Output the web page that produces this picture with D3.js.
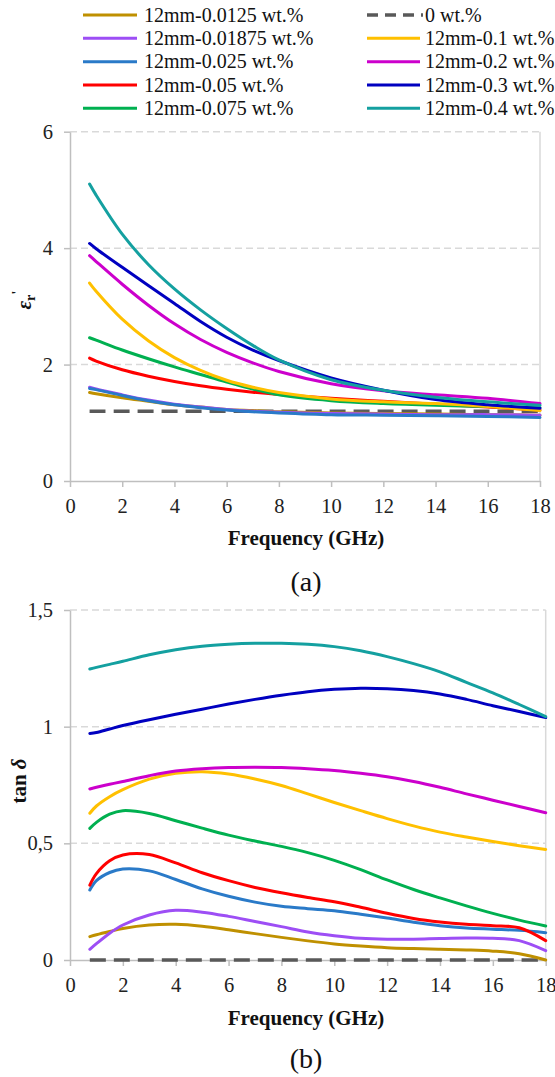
<!DOCTYPE html>
<html><head><meta charset="utf-8">
<script src="https://cdn.jsdelivr.net/npm/d3@7"></script>
<style>
html,body{margin:0;padding:0;background:#fff;}
svg{display:block;}
</style></head>
<body>
<svg id="c" width="555" height="1077"></svg>
<script>
// ---------- DATA ----------
const seriesNames = ["12mm-0.0125 wt.%","12mm-0.01875 wt.%","12mm-0.025 wt.%","12mm-0.05 wt.%","12mm-0.075 wt.%",
                     "0 wt.%","12mm-0.1 wt.%","12mm-0.2 wt.%","12mm-0.3 wt.%","12mm-0.4 wt.%"];
const seriesColors = ["#bf9000","#9d4ef5","#2a7ac8","#ff0000","#00b050","#595959","#ffc000","#cc00cc","#0000c0","#14a0a0"];

const freqA = [0.75,1,2,3,4,5,6,7,8,10,12,14,16,18];
const epsGold    = [1.52,1.50,1.43,1.37,1.31,1.27,1.23,1.21,1.19,1.17,1.16,1.15,1.14,1.13];
const epsPurple  = [1.61,1.58,1.48,1.39,1.32,1.27,1.23,1.20,1.18,1.16,1.15,1.14,1.14,1.13];
const epsBlue    = [1.59,1.57,1.47,1.38,1.31,1.26,1.22,1.19,1.17,1.14,1.13,1.12,1.11,1.09];
const epsRed     = [2.11,2.06,1.91,1.80,1.71,1.635,1.575,1.525,1.485,1.42,1.37,1.32,1.27,1.22];
const epsGreen   = [2.46,2.42,2.25,2.10,1.96,1.83,1.70,1.58,1.48,1.38,1.33,1.30,1.28,1.26];
const epsZero    = [1.20,1.20,1.20,1.20,1.20,1.20,1.20,1.20,1.20,1.20,1.20,1.20,1.20,1.20];
const epsYellow  = [3.40,3.26,2.78,2.41,2.12,1.90,1.73,1.61,1.52,1.41,1.36,1.33,1.28,1.21];
const epsMagenta = [3.87,3.77,3.38,3.02,2.70,2.43,2.21,2.03,1.88,1.67,1.55,1.48,1.42,1.33];
const epsNavy    = [4.08,3.99,3.67,3.36,3.05,2.74,2.47,2.25,2.07,1.77,1.56,1.40,1.31,1.25];
const epsTeal    = [5.10,4.91,4.24,3.72,3.30,2.94,2.62,2.33,2.08,1.74,1.56,1.44,1.36,1.30];

const freqB = [0.75,1,1.5,2,3,4,5,6,7,8,9,10,11,12,13,14,15,16,17,18];
const tanGold    = [0.100,0.108,0.122,0.135,0.150,0.153,0.145,0.130,0.113,0.097,0.082,0.069,0.060,0.053,0.049,0.046,0.043,0.038,0.027,0.000];
const tanPurple  = [0.046,0.070,0.115,0.150,0.193,0.213,0.205,0.187,0.165,0.143,0.120,0.104,0.093,0.089,0.089,0.092,0.094,0.093,0.083,0.040];
const tanBlue    = [0.300,0.340,0.375,0.390,0.382,0.345,0.305,0.273,0.248,0.230,0.220,0.211,0.196,0.180,0.162,0.147,0.137,0.132,0.127,0.117];
const tanRed     = [0.321,0.370,0.425,0.450,0.452,0.416,0.374,0.340,0.311,0.288,0.268,0.250,0.226,0.200,0.178,0.163,0.153,0.147,0.138,0.083];
const tanGreen   = [0.564,0.590,0.625,0.640,0.628,0.597,0.565,0.535,0.510,0.487,0.460,0.427,0.387,0.343,0.302,0.266,0.232,0.200,0.171,0.146];
const tanZero    = [0,0,0,0,0,0,0,0,0,0,0,0,0,0,0,0,0,0,0,0];
const tanYellow  = [0.629,0.660,0.700,0.730,0.775,0.800,0.807,0.797,0.776,0.748,0.712,0.675,0.640,0.606,0.575,0.548,0.527,0.508,0.490,0.474];
const tanMagenta = [0.733,0.740,0.753,0.765,0.790,0.810,0.820,0.825,0.826,0.825,0.820,0.812,0.800,0.785,0.765,0.740,0.712,0.685,0.658,0.631];
const tanNavy    = [0.971,0.975,0.990,1.005,1.030,1.053,1.075,1.097,1.117,1.135,1.150,1.160,1.165,1.163,1.155,1.140,1.117,1.090,1.065,1.039];
const tanTeal    = [1.247,1.254,1.267,1.280,1.308,1.330,1.345,1.353,1.357,1.357,1.353,1.343,1.325,1.300,1.270,1.235,1.190,1.145,1.095,1.043];

const xTicks = [0,2,4,6,8,10,12,14,16,18];
const yTicksA = [0,2,4,6];
const yTicksB = [0,0.5,1,1.5];
const yTickLabelsB = ["0","0,5","1","1,5"];

const epsSeries = [epsGold,epsPurple,epsBlue,epsRed,epsGreen,epsZero,epsYellow,epsMagenta,epsNavy,epsTeal];
const tanSeries = [tanGold,tanPurple,tanBlue,tanRed,tanGreen,tanZero,tanYellow,tanMagenta,tanNavy,tanTeal];
const drawOrder = [5,0,1,2,3,4,6,7,8,9];

// ---------- DRAW ----------
const FONT = '"Liberation Serif"';
const svg = d3.select("#c");
const AXIS = "#bfbfbf", GRID = "#d9d9d9";
function txt(sel, size, bold){
  return sel.style("font-family",FONT).style("font-size",size+"px").style("font-weight",bold?"bold":"normal");
}

function panel(cfg){
  const x = d3.scaleLinear().domain([0,18]).range([70,cfg.right]);
  const y = d3.scaleLinear().domain(cfg.ydom).range([cfg.bottom,cfg.top]);
  const g = svg.append("g");
  g.selectAll("line.grid").data(cfg.yticks.filter(d=>d>0)).join("line")
    .attr("x1",70).attr("x2",cfg.right).attr("y1",d=>y(d)).attr("y2",d=>y(d))
    .attr("stroke",GRID).attr("stroke-width",1.5).attr("stroke-dasharray","7,4");
  g.append("line").attr("x1",cfg.right).attr("x2",cfg.right).attr("y1",y(cfg.ydom[1])).attr("y2",cfg.bottom)
    .attr("stroke",GRID).attr("stroke-width",1.5);
  const xa = g.append("g").attr("transform",`translate(0,${cfg.bottom})`)
    .call(d3.axisBottom(x).tickValues(xTicks).tickSize(6).tickSizeOuter(0).tickPadding(11));
  const ya = g.append("g").attr("transform","translate(70,0)")
    .call(d3.axisLeft(y).tickValues(cfg.yticks).tickSize(6).tickSizeOuter(0).tickPadding(11)
      .tickFormat((d,i)=>cfg.ylabels ? cfg.ylabels[i] : String(d)));
  [xa,ya].forEach(a=>{
    a.select(".domain").attr("stroke",AXIS).attr("stroke-width",1.5);
    a.selectAll(".tick line").attr("stroke",AXIS).attr("stroke-width",1.5);
    txt(a.selectAll(".tick text"),20.5,false).attr("fill","#222");
  });
  const line = d3.line().x((d,i)=>x(cfg.freq[i])).y(d=>y(d)).curve(d3.curveCatmullRom.alpha(0.5));
  drawOrder.forEach(si=>{
    const isZero = si===5;
    g.append("path").attr("d",line(cfg.series[si])).attr("fill","none")
      .attr("stroke",seriesColors[si]).attr("stroke-width",isZero?3.5:3)
      .attr("stroke-dasharray",isZero?"16,8":null).attr("stroke-linecap",isZero?"butt":"round");
  });
  txt(g.append("text"),21,true).attr("x",306).attr("y",cfg.xtitleY).attr("text-anchor","middle")
    .attr("fill","#111").text("Frequency (GHz)");
  txt(g.append("text"),28,false).attr("x",306).attr("y",cfg.capY).attr("text-anchor","middle")
    .attr("fill","#111").text(cfg.cap);
  return {x,y,g};
}

panel({right:540, top:131.7, bottom:481, ydom:[0,6], yticks:yTicksA, freq:freqA, series:epsSeries,
  xtitleY:545, capY:591, cap:"(a)"});
panel({right:545.7, top:610, bottom:960, ydom:[0,1.5], yticks:yTicksB, ylabels:yTickLabelsB, freq:freqB, series:tanSeries,
  xtitleY:1025, capY:1068, cap:"(b)"});

const ta = txt(svg.append("text"),21,true).attr("transform","translate(31,300) rotate(-90)").attr("text-anchor","middle").attr("fill","#111");
ta.append("tspan").style("font-style","italic").text("ε");
ta.append("tspan").attr("dy",4).style("font-size","14px").text("r");
ta.append("tspan").attr("dy",-13).style("font-size","15px").text("'");
const tb = txt(svg.append("text"),21,true).attr("transform","translate(26,781) rotate(-90)").attr("text-anchor","middle").attr("fill","#111");
tb.append("tspan").text("tan ");
tb.append("tspan").style("font-style","italic").text("δ");

const rowsY = [15,38.3,61.7,85,108.3];
const leg = svg.append("g");
seriesNames.forEach((n,i)=>{
  const col = i<5?0:1, row = i%5;
  const lx = col===0?83:367, lx2 = col===0?137:(i===5?423:420), tx = col===0?144:425;
  const yy = rowsY[row];
  leg.append("line").attr("x1",lx).attr("x2",lx2).attr("y1",yy).attr("y2",yy)
    .attr("stroke",seriesColors[i]).attr("stroke-width",i===5?3.5:3)
    .attr("stroke-dasharray",i===5?"11,7":null);
  txt(leg.append("text"),20,false).attr("x",tx).attr("y",yy+6.5).attr("fill","#111").text(n);
});
</script>
</body></html>
